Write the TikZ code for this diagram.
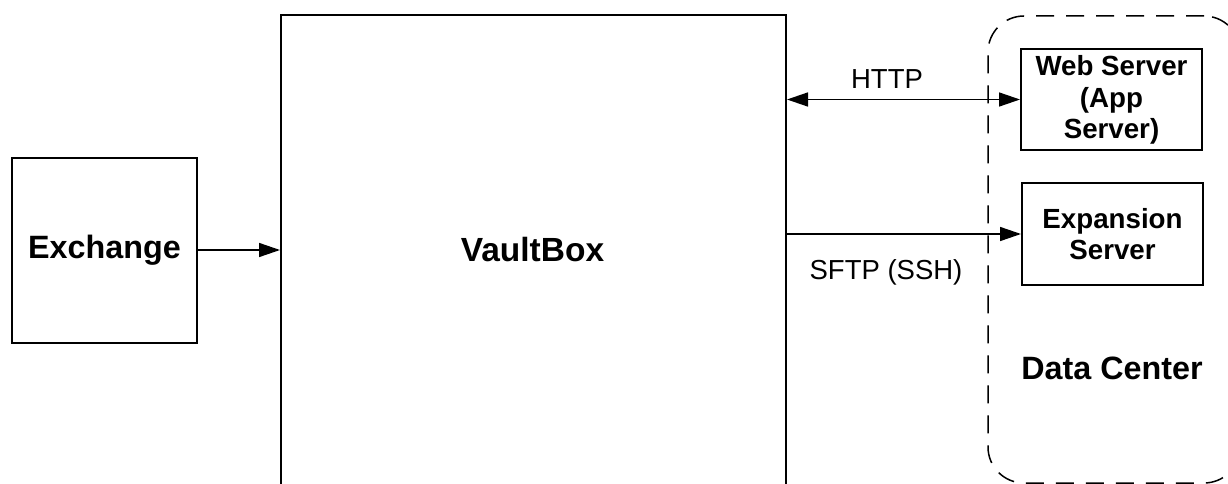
\documentclass[tikz,border=0pt]{standalone}
\usepackage{fontspec}
\setmainfont{Liberation Sans}
\usetikzlibrary{arrows.meta}
\begin{document}
\begin{tikzpicture}[x=1pt,y=-1pt,
  box/.style={draw=black, line width=2pt, fill=white, inner sep=0pt},
  bigtxt/.style={font=\fontsize{32.3}{36}\selectfont\bfseries, inner sep=0pt},
  srvtxt/.style={font=\fontsize{27.7}{31.5}\selectfont\bfseries, align=center, inner sep=0pt},
  lbltxt/.style={font=\fontsize{27.5}{31}\selectfont, inner sep=0pt},
  arr/.style={line width=1.5pt, -{Triangle[length=21pt,width=14pt]}},
  biarr/.style={line width=1.5pt, {Triangle[length=21pt,width=14pt]}-{Triangle[length=21pt,width=14pt]}},
  dcbox/.style={draw=black, line width=1.5pt, dash pattern=on 18pt off 12pt, rounded corners=36pt, inner sep=0pt}]
\useasboundingbox (0,0) rectangle (1228,484);
\fill[white] (0,0) rectangle (1228,484);

% data center enclosure
\node[dcbox, minimum width=252pt, minimum height=467pt] (dc) at (1114,249.5) {};
\node[bigtxt] (dclbl) at (1112,368) {Data Center};

% main blocks
\node[box, minimum width=185pt, minimum height=185pt] (ex) at (104.5,250.5) {};
\node[bigtxt] (exlbl) at (104.5,250) {Exchange};
\node[box, minimum width=505pt, minimum height=474pt] (vault) at (533.5,252) {};
\node[bigtxt, font=\fontsize{33.5}{36}\selectfont\bfseries] (vaultlbl) at (532.5,250) {VaultBox};

% servers in the data center
\node[box, minimum width=181pt, minimum height=101pt] (web) at (1111.5,99.5) {};
\node[srvtxt] (weblbl) at (1111.5,100) {Web Server\\(App\\Server)};
\node[box, minimum width=181pt, minimum height=102pt] (exp) at (1112.5,234) {};
\node[srvtxt] (explbl) at (1112.5,234) {Expansion\\Server};

% connections
\draw[arr] (ex.east |- exlbl) -- (vault.west |- exlbl);
\draw[biarr] (vault.east |- web.west) -- (web.west);
\draw[arr] (vault.east |- exp.west) -- (exp.west);

\node[lbltxt] (http) at (887,79) {HTTP};
\node[lbltxt] (sftp) at (886,272) {SFTP (SSH)};
\end{tikzpicture}
\end{document}
